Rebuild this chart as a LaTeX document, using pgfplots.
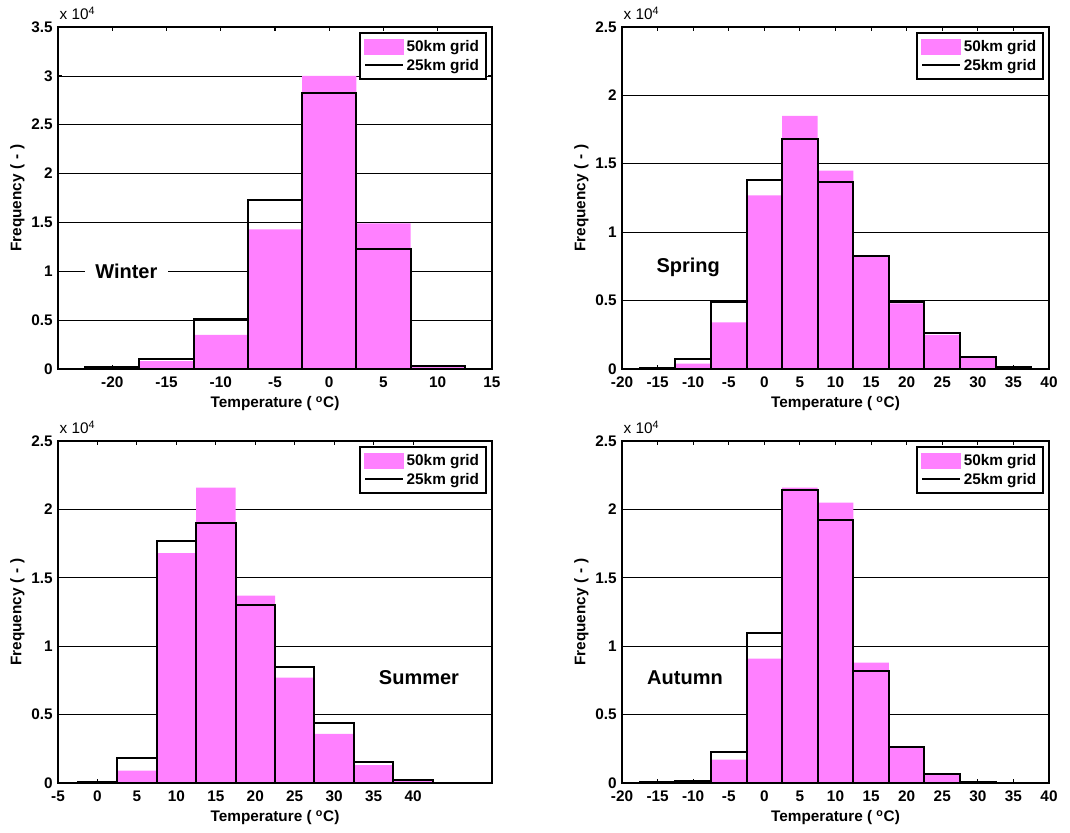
\documentclass[border=0pt]{standalone}
\usepackage{pgfplots}
\pgfplotsset{compat=1.18}
\usepackage{fontspec}
\setmainfont{Liberation Sans}
\definecolor{pinkc}{RGB}{255,128,255}
\pgfplotsset{
 panel/.style={
  scale only axis, height=256.5pt,
  ymin=0, tick align=inside, tick pos=both,
  major tick length=3pt,
  every tick/.style={black, line width=0.8pt},
  ymajorgrids, major grid style={black, line width=0.5pt},
  axis line style={line width=1.5pt},
  tick label style={font=\bfseries\fontsize{11.5}{13}\selectfont, inner sep=1pt},
  xticklabel style={yshift=-4.8pt},
  yticklabel style={xshift=-2.8pt},
  /pgf/number format/assume math mode=true,
  xlabel={Temperature ( \textsuperscript{o}C)},
  ylabel={Frequency (\,\,-\,\,)},
  every axis x label/.style={at={([yshift=-26pt]axis description cs:0.5,0)}, anchor=center,
    font=\bfseries\fontsize{11.5}{13}\selectfont},
  every axis y label/.style={at={([xshift=-30.5pt]axis description cs:0,0.5)}, anchor=center, rotate=90,
    font=\bfseries\fontsize{11.5}{13}\selectfont},
  legend style={at={(rel axis cs:0.988,0.985)}, anchor=north east, draw=black, line width=1.5pt,
    font=\bfseries\fontsize{11.5}{13}\selectfont, inner xsep=3pt, inner ysep=3.5pt, row sep=0pt},
  legend cell align=left,
  clip=false,
 },
 pinkbar/.style={ybar, bar width=5, bar shift=0pt, fill=pinkc, draw=none, forget plot},
 blackbar/.style={ybar, bar width=5, bar shift=0pt, fill=none, draw=black, line width=1.5pt, forget plot},
 pinkleg/.style={legend image code/.code={\fill[pinkc] (0pt,-5.25pt) rectangle (28.5pt,5.25pt);}},
 blackleg/.style={legend image code/.code={\draw[black,line width=1.5pt] (0pt,0pt) -- (28.5pt,0pt);}},
}
\newcommand{\scalelabel}{\node[anchor=south west, font=\fontsize{11.5}{13}\selectfont, inner sep=0pt] at ([xshift=1pt,yshift=5pt]rel axis cs:0,1) {x 10\textsuperscript{4}};}
\newcommand{\frameon}{\draw[line width=1.5pt] (rel axis cs:0,0) rectangle (rel axis cs:1,1);}
\begin{document}
\begin{tikzpicture}
\useasboundingbox (0,0) rectangle (802.5pt,624pt);
% Winter
\begin{axis}[panel, width=325.5pt, at={(43.5pt,347.25pt)}, anchor=south west,
  xmin=-25, xmax=15, ymax=3.5, xtick={-20,-15,...,15}, ytick={0,0.5,...,3.5}]
\addlegendimage{pinkleg}\addlegendentry{50km grid}
\addlegendimage{blackleg}\addlegendentry{25km grid}
\addplot[pinkbar] coordinates {(-15,0.08) (-10,0.35) (-5,1.43) (0,3.0) (5,1.49) (10,0.03)};
\addplot[blackbar] coordinates {(-20,0.02) (-15,0.10) (-10,0.51) (-5,1.73) (0,2.82) (5,1.23) (10,0.03)};
\node[fill=white, inner xsep=8pt, font=\bfseries\fontsize{15}{18}\selectfont] at (axis cs:-18.7,1.0) {Winter};
\frameon
\scalelabel
\end{axis}
% Spring
\begin{axis}[panel, width=320.25pt, at={(466.5pt,347.25pt)}, anchor=south west,
  xmin=-20, xmax=40, ymax=2.5, xtick={-20,-15,...,40}, ytick={0,0.5,...,2.5}]
\addlegendimage{pinkleg}\addlegendentry{50km grid}
\addlegendimage{blackleg}\addlegendentry{25km grid}
\addplot[pinkbar] coordinates {(-10,0.04) (-5,0.34) (0,1.27) (5,1.85) (10,1.45) (15,0.82) (20,0.48) (25,0.25) (30,0.08) (35,0.01)};
\addplot[blackbar] coordinates {(-15,0.005) (-10,0.07) (-5,0.49) (0,1.38) (5,1.68) (10,1.37) (15,0.825) (20,0.49) (25,0.26) (30,0.085) (35,0.015)};
\node[font=\bfseries\fontsize{15}{18}\selectfont] at (axis cs:-10.7,0.746) {Spring};
\frameon
\scalelabel
\end{axis}
% Summer
\begin{axis}[panel, width=325.5pt, at={(43.5pt,36.75pt)}, anchor=south west,
  xmin=-5, xmax=50, ymax=2.5, xtick={-5,0,...,40}, ytick={0,0.5,...,2.5}]
\addlegendimage{pinkleg}\addlegendentry{50km grid}
\addlegendimage{blackleg}\addlegendentry{25km grid}
\addplot[pinkbar] coordinates {(5,0.09) (10,1.68) (15,2.16) (20,1.37) (25,0.77) (30,0.36) (35,0.13) (40,0.02)};
\addplot[blackbar] coordinates {(0,0.005) (5,0.18) (10,1.77) (15,1.90) (20,1.30) (25,0.85) (30,0.44) (35,0.15) (40,0.025)};
\node[font=\bfseries\fontsize{15}{18}\selectfont] at (axis cs:40.75,0.767) {Summer};
\frameon
\scalelabel
\end{axis}
% Autumn
\begin{axis}[panel, width=320.25pt, at={(466.5pt,36.75pt)}, anchor=south west,
  xmin=-20, xmax=40, ymax=2.5, xtick={-20,-15,...,40}, ytick={0,0.5,...,2.5}]
\addlegendimage{pinkleg}\addlegendentry{50km grid}
\addlegendimage{blackleg}\addlegendentry{25km grid}
\addplot[pinkbar] coordinates {(-5,0.17) (0,0.91) (5,2.16) (10,2.05) (15,0.88) (20,0.255) (25,0.06)};
\addplot[blackbar] coordinates {(-15,0.004) (-10,0.012) (-5,0.23) (0,1.10) (5,2.145) (10,1.92) (15,0.82) (20,0.26) (25,0.065) (30,0.006)};
\node[font=\bfseries\fontsize{15}{18}\selectfont] at (axis cs:-11.15,0.767) {Autumn};
\frameon
\scalelabel
\end{axis}
\end{tikzpicture}
\end{document}
